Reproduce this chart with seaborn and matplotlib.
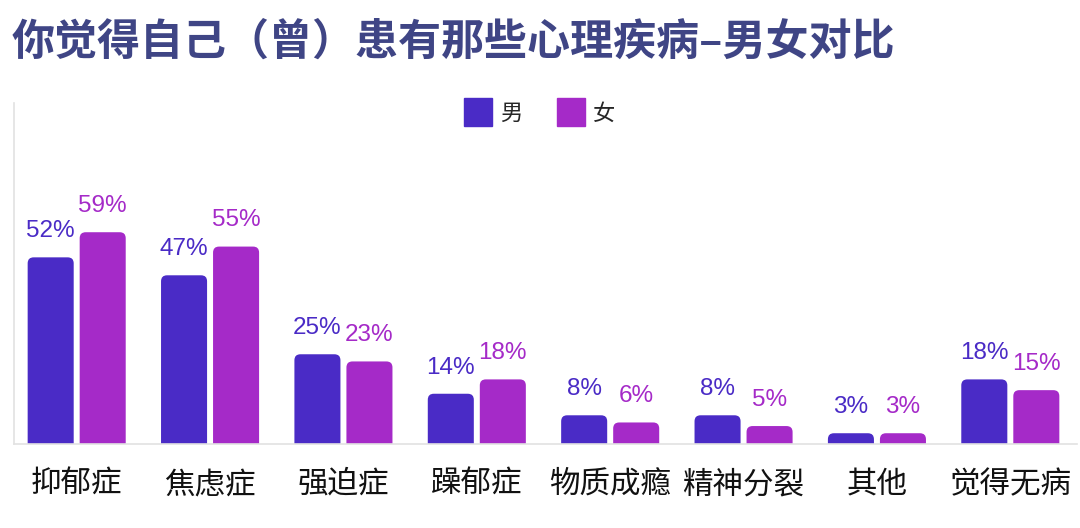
import pandas as pd
import numpy as np
import matplotlib
matplotlib.use('Agg')
import matplotlib.pyplot as plt
import seaborn as sns
from matplotlib.patches import FancyBboxPatch
from matplotlib.lines import Line2D

# chart data
categories = ['抑郁症', '焦虑症', '强迫症', '躁郁症', '物质成瘾', '精神分裂', '其他', '觉得无病']
male = [52, 47, 25, 14, 8, 8, 3, 18]
female = [59, 55, 23, 18, 6, 5, 3, 15]
groups = ['男', '女']
title = '你觉得自己（曾）患有那些心理疾病–男女对比'

colors = {'男': '#4A2BC6', '女': '#A52AC8'}

df = pd.DataFrame({
    'cat': categories * 2,
    'sex': ['男'] * len(categories) + ['女'] * len(categories),
    'val': male + female,
})

sns.set_style('white')
plt.rcParams['font.family'] = ['Noto Sans CJK SC', 'DejaVu Sans']

fig = plt.figure(figsize=(10.8, 5.28), dpi=100)
ax = fig.add_axes([14 / 1080, 84 / 528, 1063 / 1080, 341 / 528])

sns.barplot(data=df, x='cat', y='val', hue='sex', hue_order=groups,
            palette=colors, width=0.78, gap=0.115, ax=ax, legend=False,
            errorbar=None, saturation=1)

ax.set_xlim(-0.47, 7.5)
ax.set_ylim(0, 95)

# swap plain rectangles for rounded ones and add value labels
for sex, cont in zip(groups, ax.containers):
    for rect in cont:
        x, w, h = rect.get_x(), rect.get_width(), rect.get_height()
        rect.set_visible(False)
        r = FancyBboxPatch((x, -3), w, h + 3,
                           boxstyle='round,pad=0,rounding_size=0.045',
                           mutation_aspect=37, facecolor=colors[sex],
                           edgecolor='none', clip_on=True)
        ax.add_patch(r)
        ax.annotate(f'{int(h)}%', (x + w / 2, h), xytext=(0, 14.5),
                    textcoords='offset points', ha='center', va='baseline',
                    fontsize=17.5, color=colors[sex],
                    family=['Liberation Sans', 'DejaVu Sans'])

sns.despine(ax=ax, top=True, right=True)
for s in ['left', 'bottom']:
    ax.spines[s].set_color('#e2e2e2')
    ax.spines[s].set_linewidth(1.2)
ax.set_yticks([])
ax.set_xlabel('')
ax.set_ylabel('')
ax.tick_params(axis='x', length=0, pad=18, labelsize=22, labelcolor='#111111')

handles = [Line2D([], [], marker='s', ls='', markersize=20, color=colors[g]) for g in groups]
fig.legend(handles, groups, loc='center', bbox_to_anchor=(540 / 1080, 1 - 113 / 528),
           ncol=2, frameon=False, fontsize=16, handletextpad=0.4,
           columnspacing=1.6, handlelength=1.2)

fig.text(12 / 1080, 1 - 42 / 528, title, fontsize=31, fontweight='bold',
         color='#3F4585', va='center', ha='left')

fig.savefig('out.png', dpi=100)
